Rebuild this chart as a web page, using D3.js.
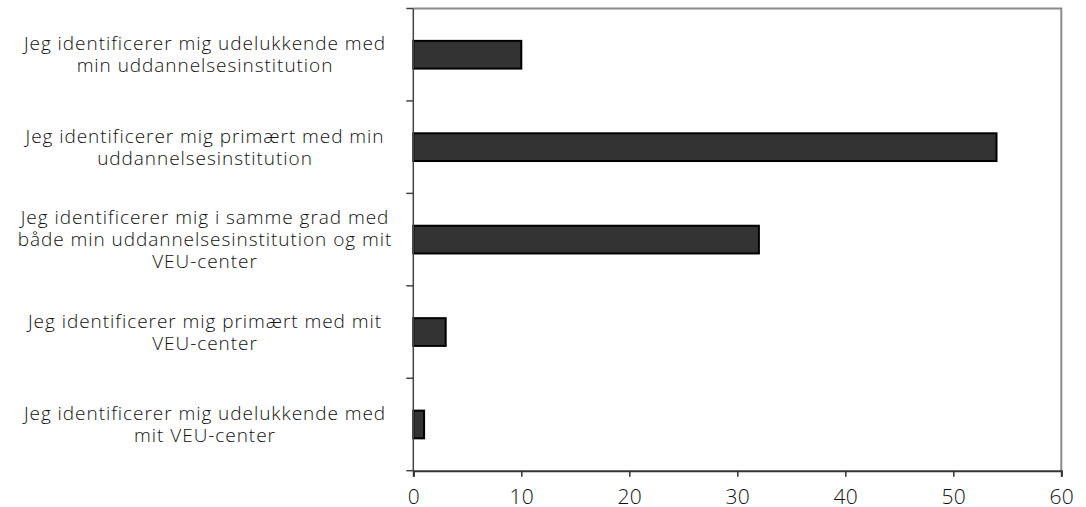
<!DOCTYPE html>
<html><head><meta charset="utf-8">
<script src="https://cdn.jsdelivr.net/npm/d3@7"></script>
<style>body{margin:0;background:#fff}svg{display:block}text{font-family:"Open Sans",sans-serif;fill:#111}</style>
</head><body><svg id="c" width="1086" height="507"></svg>
<script>
const categories = [
  "Jeg identificerer mig udelukkende med|min uddannelsesinstitution",
  "Jeg identificerer mig primært med min|uddannelsesinstitution",
  "Jeg identificerer mig i samme grad med|både min uddannelsesinstitution og mit|VEU-center",
  "Jeg identificerer mig primært med mit|VEU-center",
  "Jeg identificerer mig udelukkende med|mit VEU-center"
];
const values = [10, 54, 32, 3, 1];
const xTicks = [0, 10, 20, 30, 40, 50, 60];

const svg = d3.select("#c");
const L = 413.3, T = 8.5, R = 1061.3, B = 470.7;
const x = d3.scaleLinear().domain([0, 60]).range([L, R]);
const y = d3.scaleBand().domain(categories).range([T, B]).padding(0);
const barH = y.bandwidth() * 0.3;

// frame top/right
svg.append("path").attr("d", `M${L},${T}H${R}V${B}`).attr("fill","none").attr("stroke","#8a8a8a").attr("stroke-width",2);

// bars
svg.selectAll("rect.bar").data(values).join("rect")
  .attr("x", x(0))
  .attr("y", (d,i) => y(categories[i]) + y.bandwidth()/2 - barH/2)
  .attr("width", d => x(d) - x(0))
  .attr("height", barH)
  .attr("fill", "#333").attr("stroke", "#000").attr("stroke-width", 2);

// bottom axis
const xa = svg.append("g").attr("transform", `translate(0,${B})`)
  .call(d3.axisBottom(x).tickValues(xTicks).tickSize(6).tickPadding(12.5).tickFormat(d3.format("d")));
xa.select(".domain").attr("stroke","#333").attr("stroke-width",2);
xa.selectAll(".tick line").attr("stroke","#333").attr("stroke-width",1.5);
xa.selectAll(".tick text").attr("font-size",21).attr("font-family","Open Sans").attr("font-weight",300)
  .attr("letter-spacing",0.3).attr("fill","#111");

// left axis
const bounds = categories.map(c => y(c)).concat([B]);
svg.append("line").attr("x1",L).attr("x2",L).attr("y1",T).attr("y2",B).attr("stroke","#444").attr("stroke-width",1.5);
svg.selectAll("line.yt").data(bounds).join("line").attr("class","yt")
  .attr("x1",L-7).attr("x2",L).attr("y1",d=>d).attr("y2",d=>d).attr("stroke","#444").attr("stroke-width",1.5);

// labels
const lh = 22;
categories.forEach((c) => {
  const lines = c.split("|");
  const cy = y(c) + y.bandwidth()/2;
  const t = svg.append("text").attr("text-anchor","middle").attr("font-size",19)
    .attr("font-weight",300).attr("letter-spacing",0.95);
  lines.forEach((ln, j) => {
    t.append("tspan").attr("x", 205)
      .attr("y", cy + (j - (lines.length-1)/2) * lh + 6.5)
      .text(ln);
  });
});
</script></body></html>
